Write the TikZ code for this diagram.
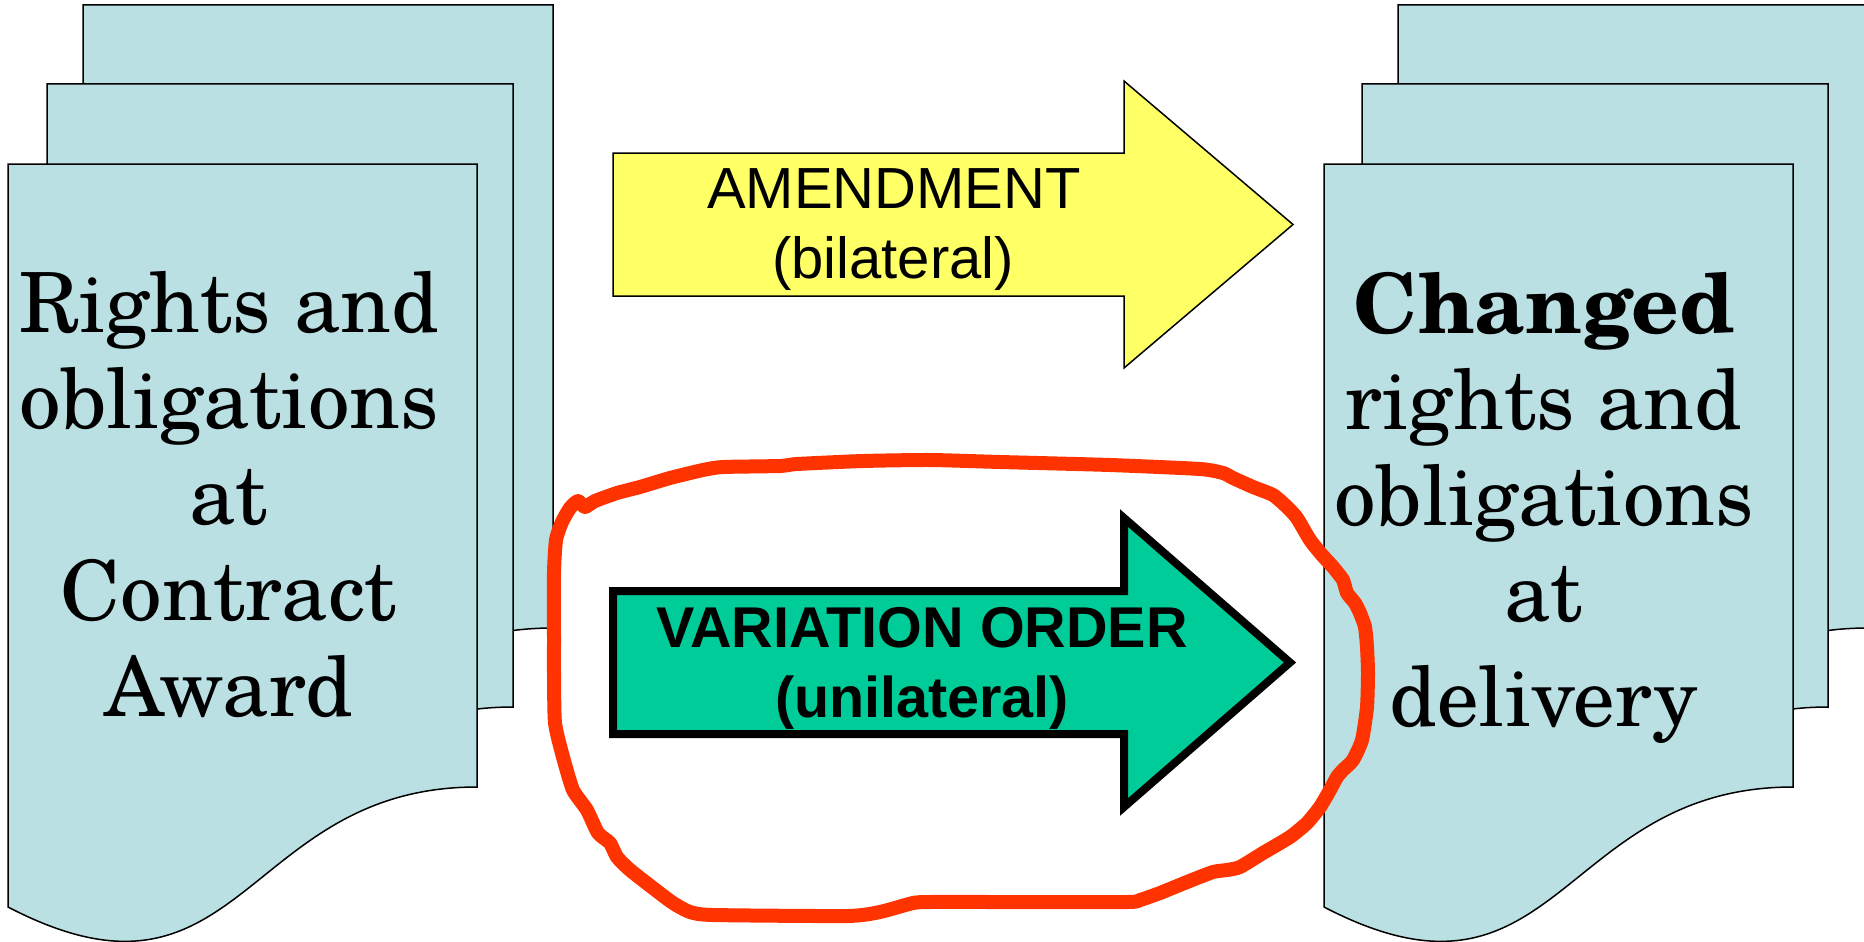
\documentclass[tikz,border=0pt]{standalone}
\usepackage{fontspec}
\newfontfamily\schola[BoldFont=texgyreschola-bold.otf]{texgyreschola-regular.otf}
\newfontfamily\arialf{Liberation Sans}
\definecolor{docblue}{HTML}{BBE0E3}
\definecolor{amendyellow}{HTML}{FFFF66}
\definecolor{varygreen}{HTML}{00CC99}
\definecolor{loopred}{HTML}{FF3300}
\newcommand{\docpage}[3]{%
  \filldraw[docstyle, shift={(#1,#2)}] (0,0) -- (#3,0) -- (#3,623)
    .. controls ({#3/2},623) and ({#3/2},865) .. (0,743) -- cycle;}
\begin{document}
\begin{tikzpicture}[x=1pt,y=-1pt,
  docstyle/.style={fill=docblue,draw=black,line width=1.5pt},
  yarrow/.style={fill=amendyellow,draw=black,line width=1.5pt},
  garrow/.style={fill=varygreen,draw=black,line width=8pt},
  redloop/.style={draw=loopred,line width=14pt,line join=round,line cap=round},
  doctext/.style={anchor=base,inner sep=0pt,font=\schola\fontsize{83}{96}\selectfont},
  amendtext/.style={anchor=base,inner sep=0pt,font=\arialf\fontsize{58}{70}\selectfont},
  varytext/.style={anchor=base,inner sep=0pt,font=\arialf\bfseries\fontsize{57.5}{70}\selectfont}]
\useasboundingbox (0,0) rectangle (1864,942);
\clip (0,0) rectangle (1864,942);
% left stack
\docpage{83}{5}{470}
\docpage{47}{84}{466}
\docpage{8}{164}{469}
% right stack
\docpage{1398}{5}{470}
\docpage{1362}{84}{466}
\docpage{1324}{164}{469}
% texts in documents
\node[doctext] (lefttext) at (229,332)
  {\begin{tabular}[t]{@{}c@{}}Rights and\\obligations\\at\\Contract\\Award\end{tabular}};
\node[doctext] (righttext) at (1544,333)
  {\begin{tabular}[t]{@{}c@{}}\textbf{Changed}\\rights and\\obligations\\at\\[9.5pt]delivery\end{tabular}};
% amendment arrow
\filldraw[yarrow] (613,153) -- (1124,153) -- (1124,81) -- (1293,224.5)
  -- (1124,368) -- (1124,296) -- (613,296) -- cycle;
\node[amendtext] (amend) at (894,208) {AMENDMENT};
\node[amendtext] (bilat) at (893,278) {(bilateral)};
% variation order arrow
\filldraw[garrow] (613,591) -- (1124,591) -- (1124,518) -- (1290,662.5)
  -- (1124,807) -- (1124,734) -- (613,734) -- cycle;
\node[varytext] (vo) at (922,647) {VARIATION ORDER};
\node[varytext] (unil) at (922,717) {(unilateral)};
% red hand-drawn loop
\draw[redloop] plot[smooth cycle, tension=0.35] coordinates {
 (554,640) (554,573) (556,540) (562,522) (570,508) (578,501) (585,507) (595,501)
 (617,493) (640,487) (670,478) (703,470) (723,467) (780,466) (797,464) (863,461)
 (930,460) (1000,462) (1110,465) (1200,469) (1223,473) (1233,478) (1253,487)
 (1273,495) (1287,507) (1297,518) (1310,540) (1322,555) (1333,567) (1343,580)
 (1347,593) (1355,603) (1360,613) (1365,627) (1367,647) (1368,673) (1367,707)
 (1362,740) (1353,760) (1343,770) (1337,777) (1330,790) (1320,807) (1307,823)
 (1290,837) (1263,853) (1240,867) (1227,870) (1213,872) (1187,882) (1160,893)
 (1140,900) (1127,902) (1000,902) (930,902) (913,903) (880,912) (847,916)
 (713,915) (690,912) (673,903) (653,888) (630,870) (617,857) (610,843)
 (598,833) (587,810) (573,790) (563,757) (555,723) (554,673)};
\end{tikzpicture}
\end{document}
